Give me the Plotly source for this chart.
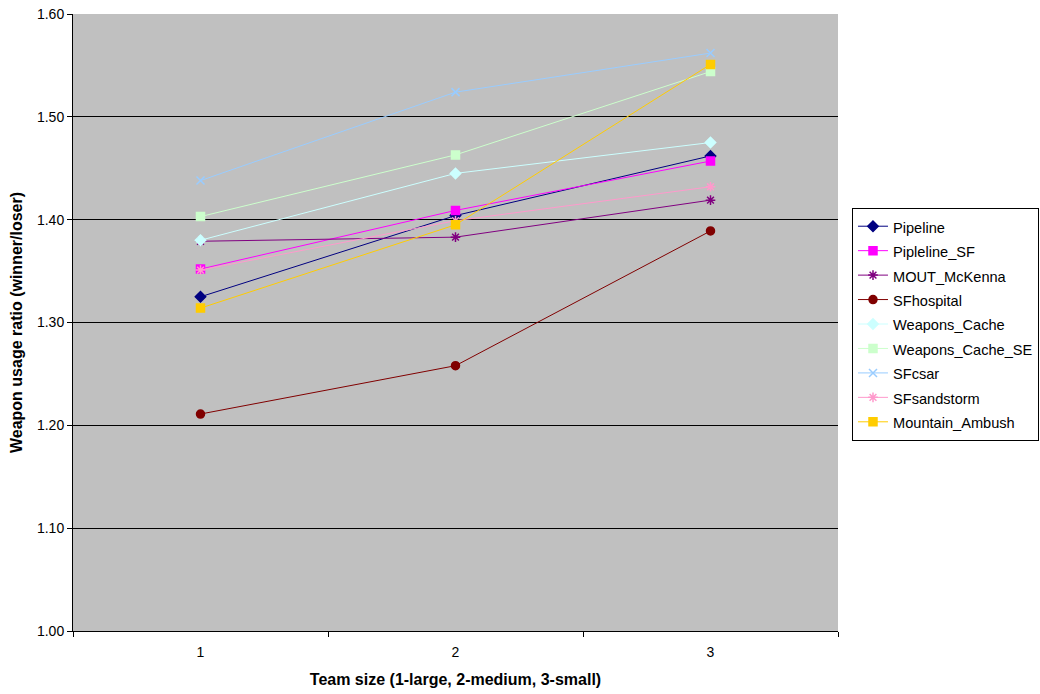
import plotly.graph_objects as go

categories = ["1", "2", "3"]
series_names = ["Pipeline", "Pipleline_SF", "MOUT_McKenna", "SFhospital", "Weapons_Cache",
                "Weapons_Cache_SE", "SFcsar", "SFsandstorm", "Mountain_Ambush"]
pipeline = [1.325, 1.404, 1.462]
pipleline_sf = [1.352, 1.409, 1.457]
mout_mckenna = [1.379, 1.383, 1.419]
sfhospital = [1.211, 1.258, 1.389]
weapons_cache = [1.380, 1.445, 1.475]
weapons_cache_se = [1.403, 1.463, 1.544]
sfcsar = [1.438, 1.524, 1.562]
sfsandstorm = [1.351, 1.399, 1.432]
mountain_ambush = [1.314, 1.395, 1.551]

values = [pipeline, pipleline_sf, mout_mckenna, sfhospital, weapons_cache,
          weapons_cache_se, sfcsar, sfsandstorm, mountain_ambush]
colors = ["#000080", "#FF00FF", "#800080", "#800000", "#CCFFFF",
          "#CCFFCC", "#99CCFF", "#FF99CC", "#FFCC00"]
symbols = ["diamond", "square", "asterisk-open", "circle", "diamond",
           "square", "x-thin-open", "asterisk-open", "square"]

fig = go.Figure()
for name, vals, col, sym in zip(series_names, values, colors, symbols):
    fig.add_trace(go.Scatter(
        x=categories, y=vals, name="<span style='font-size:14.6px'>" + name + "</span>",
        mode="lines+markers",
        line=dict(color=col, width=1),
        marker=dict(symbol=sym, size=8, color=col, line=dict(color=col, width=1.5)),
    ))

fig.update_layout(
    width=1040, height=694,
    margin=dict(l=73, r=202, t=14, b=63, autoexpand=False),
    paper_bgcolor="white", plot_bgcolor="#C0C0C0",
    font=dict(family="Liberation Sans, Arial", size=14, color="black"),
    showlegend=True,
    legend=dict(x=1.0183, y=0.6856, xanchor="left", yanchor="top",
                bordercolor="black", borderwidth=1, bgcolor="white",
                font=dict(size=16.5), tracegroupgap=0),
    xaxis=dict(type="category", tickson="boundaries", ticks="outside", ticklen=5,
               range=[-0.5, 2.5], automargin=False, ticklabelstandoff=8,
               tickcolor="black", showline=True, linecolor="black", linewidth=1,
               showgrid=False, zeroline=False, tickfont=dict(size=14),
               title=dict(text="<b>Team size (1-large, 2-medium, 3-small)</b>", standoff=15,
                          font=dict(size=16))),
    yaxis=dict(range=[1.0, 1.6], dtick=0.1, tickformat=".2f", ticks="outside", ticklen=5,
               automargin=False,
               tickcolor="black", showline=True, linecolor="black", linewidth=1,
               showgrid=True, gridcolor="black", gridwidth=1, zeroline=False,
               tickfont=dict(size=14),
               title=dict(text="<b>Weapon usage ratio (winner/loser)</b>", standoff=10,
                          font=dict(size=16))),
)

fig.write_html("out.html", config={"displayModeBar": False},
               post_script="document.body.style.margin='0';")
